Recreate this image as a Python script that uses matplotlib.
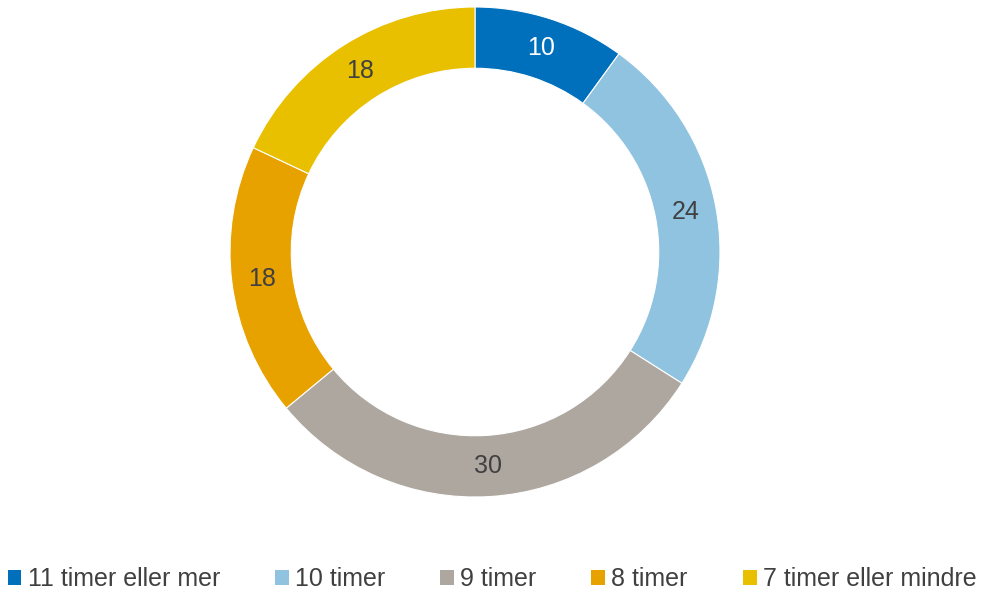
import numpy as np
import matplotlib.pyplot as plt
from matplotlib.patches import Patch

plt.rcParams['font.family'] = ['Liberation Sans', 'DejaVu Sans']

# data
categories = ['11 timer eller mer', '10 timer', '9 timer', '8 timer', '7 timer eller mindre']
values = [10, 24, 30, 18, 18]
colors = ['#0070BC', '#8FC3E0', '#ADA7A0', '#E8A200', '#E8C000']
label_colors = ['white', '#404040', '#404040', '#404040', '#404040']

fig = plt.figure(figsize=(9.9, 5.94), dpi=100)
ax = fig.add_axes([(475 - 245) / 990, (594 - 252 - 245) / 594, 490 / 990, 490 / 594])

wedges, _ = ax.pie(values, colors=colors, startangle=90, counterclock=False,
                   radius=1, wedgeprops=dict(width=0.25, edgecolor='white', linewidth=0.8))
ax.set_xlim(-1, 1)
ax.set_ylim(-1, 1)
ax.set_aspect('equal')
ax.axis('off')

# value labels on the ring
for w, v, c in zip(wedges, values, label_colors):
    ang = np.deg2rad((w.theta1 + w.theta2) / 2)
    r = 0.875
    ax.text(r * np.cos(ang), r * np.sin(ang), str(v), ha='center', va='center',
            fontsize=18, color=c)

handles = [Patch(facecolor=c, edgecolor='none') for c in colors]
fig.legend(handles, categories, loc='center', bbox_to_anchor=(0.497, 1 - 579 / 594),
           ncol=5, frameon=False, fontsize=18, labelcolor='#404040',
           handlelength=0.55, handleheight=0.55, handletextpad=0.25, columnspacing=2.2)

fig.savefig('out.png', dpi=100)
